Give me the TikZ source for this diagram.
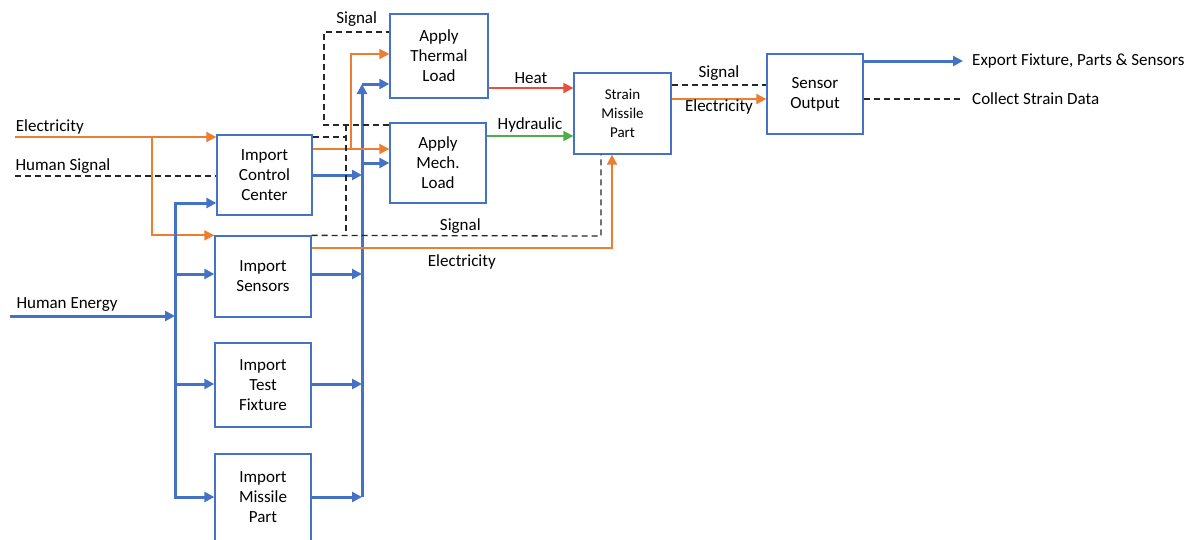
\documentclass[tikz,border=0pt]{standalone}
\usepackage{fontspec}
\setmainfont{Carlito}
\usepackage{xcolor}
\usetikzlibrary{arrows.meta}
\definecolor{boxblue}{HTML}{4472C4}
\definecolor{elecorange}{HTML}{ED7D31}
\definecolor{heatred}{HTML}{EE4B3B}
\definecolor{hydgreen}{HTML}{4DAF4A}

\begin{document}
\begin{tikzpicture}[x=1pt,y=-1pt,>={Triangle[length=10pt,width=10pt]},
  blk/.style={draw=boxblue,line width=1.3pt,align=center,inner sep=0pt,
    minimum width=96pt,minimum height=82pt,font=\fontsize{17}{20}\selectfont},
  lbl/.style={inner sep=0pt,font=\fontsize{17}{20}\selectfont},
  energy/.style={draw=boxblue,line width=3pt},
  elec/.style={draw=elecorange,line width=1.8pt},
  sig/.style={draw=black!85,line width=1.3pt,dash pattern=on 6pt off 4pt}]
\useasboundingbox (0,0) rectangle (1193,539);
\clip (0,0) rectangle (1193,539);
% function blocks
\node[blk,minimum width=95pt,minimum height=80pt] (icc) at (264.5,175) {Import\\Control\\Center};
\node[blk,minimum height=81pt] (isen) at (263,276.5) {Import\\Sensors};
\node[blk,minimum height=84pt] (itf) at (263,385) {Import\\Test\\Fixture};
\node[blk,minimum height=87pt] (imp) at (263,497.5) {Import\\Missile\\Part};
\node[blk,minimum width=98pt,minimum height=84pt] (atl) at (439,56) {Apply\\Thermal\\Load};
\node[blk,minimum height=80pt] (aml) at (438,163) {Apply\\Mech.\\Load};
\node[blk,minimum width=97pt,minimum height=81pt,font=\fontsize{15}{19}\selectfont] (smp) at (622.5,113.5) {Strain\\Missile\\Part};
\node[blk,minimum height=80pt] (so) at (815,94) {Sensor\\Output};
%
\coordinate (elin) at (15,137);
\coordinate (elbr) at (152,137);
\coordinate (hsin) at (15,176);
\coordinate (hein) at (10,316);
\coordinate (lbtop) at (175,203);
\coordinate (lbsen) at (175,274);
\coordinate (lbfix) at (175,384);
\coordinate (lbbot) at (175,497);
\coordinate (rbtop) at (362,84);
\coordinate (rbmech) at (362,163);
\coordinate (rbbot) at (362,497);
\coordinate (ccel) at (351,149);
\coordinate (thel) at (351,54);
\coordinate (ccsig) at (346,137);
\coordinate (sigtop) at (346,125);
\coordinate (sigbot) at (346,236);
\coordinate (loopbl) at (324,125);
\coordinate (looptl) at (324,32);
\coordinate (sigsm) at (601,236);
\coordinate (elsm) at (612,248);
\coordinate (heatlvl) at (530,88);
\coordinate (hydlvl) at (530,136);
\coordinate (outsig) at (720,85);
\coordinate (outel) at (720,99);
% inputs
\draw[elec,->] (elin) node[lbl,above right,yshift=2pt] (elecin) {Electricity} -- (elin -| icc.west);
\draw[elec,->] (elbr) |- (isen.north west);
\draw[sig] (hsin) node[lbl,above right,yshift=2pt] (hsigin) {Human Signal} -- (hsin -| icc.west);
\draw[energy,->] (hein) node[lbl,above right,xshift=5pt,yshift=3pt] (henin) {Human Energy} -- (hein -| lbtop);
\draw[energy,<->] (lbbot -| imp.west) -- (lbbot) -- (lbtop) -- (lbtop -| icc.west);
\draw[energy,->] (lbsen) -- (lbsen -| isen.west);
\draw[energy,->] (lbfix) -- (lbfix -| itf.west);
% material bus
\draw[energy,->] (icc.east) -- (icc.east -| rbtop);
\draw[energy,->] (lbsen -| isen.east) -- (lbsen -| rbtop);
\draw[energy,->] (lbfix -| itf.east) -- (lbfix -| rbtop);
\draw[energy,->] (lbbot -| imp.east) -- (rbbot);
\draw[energy,->] (rbbot) -- (rbtop);
\draw[energy,->] (rbtop) -- (rbtop -| atl.west);
\draw[energy,->] (rbmech) -- (rbmech -| aml.west);
% electricity to loads
\draw[elec,->] (ccel -| icc.east) -- (ccel -| aml.west);
\draw[elec,->] (ccel) -- (thel) -- (thel -| atl.west);
\draw[elec,->] (elsm -| isen.east) -- node[lbl,below=6pt] (elecmid) {Electricity} (elsm) -- (elsm |- smp.south);
% signals
\draw[sig] (ccsig -| icc.east) -- (ccsig);
\draw[sig] (sigtop) -- (sigbot);
\draw[sig] (loopbl -| aml.west) -- (loopbl) -- (looptl) -- node[lbl,above=5pt] (sigtopl) {Signal} (looptl -| atl.west);
\draw[sig] (isen.north east) -- node[lbl,above=2pt,xshift=4pt] (sigmid) {Signal} (sigsm) -- (sigsm |- smp.south);
% loads
\draw[draw=heatred,line width=1.8pt,->] (heatlvl -| atl.east) -- node[lbl,above=3pt] (heatl) {Heat} (heatlvl -| smp.west);
\draw[draw=hydgreen,line width=1.8pt,->] (hydlvl -| aml.east) -- node[lbl,above=3pt] (hydl) {Hydraulic} (hydlvl -| smp.west);
\draw[sig] (outsig -| smp.east) -- node[lbl,above=4pt] (sigout) {Signal} (outsig -| so.west);
\draw[elec,->] (outel -| smp.east) -- node[lbl,below=0pt] (elecout) {Electricity} (outel -| so.west);
% outputs
\node[lbl,anchor=west] (exptxt) at (972,61) {Export Fixture, Parts \& Sensors};
\node[lbl,anchor=west] (colltxt) at (972,99) {Collect Strain Data};
\draw[energy,->] (so.east |- exptxt) -- ([xshift=-9pt]exptxt.west);
\draw[sig] (so.east |- colltxt) -- ([xshift=-9pt]colltxt.west);
\end{tikzpicture}
\end{document}
